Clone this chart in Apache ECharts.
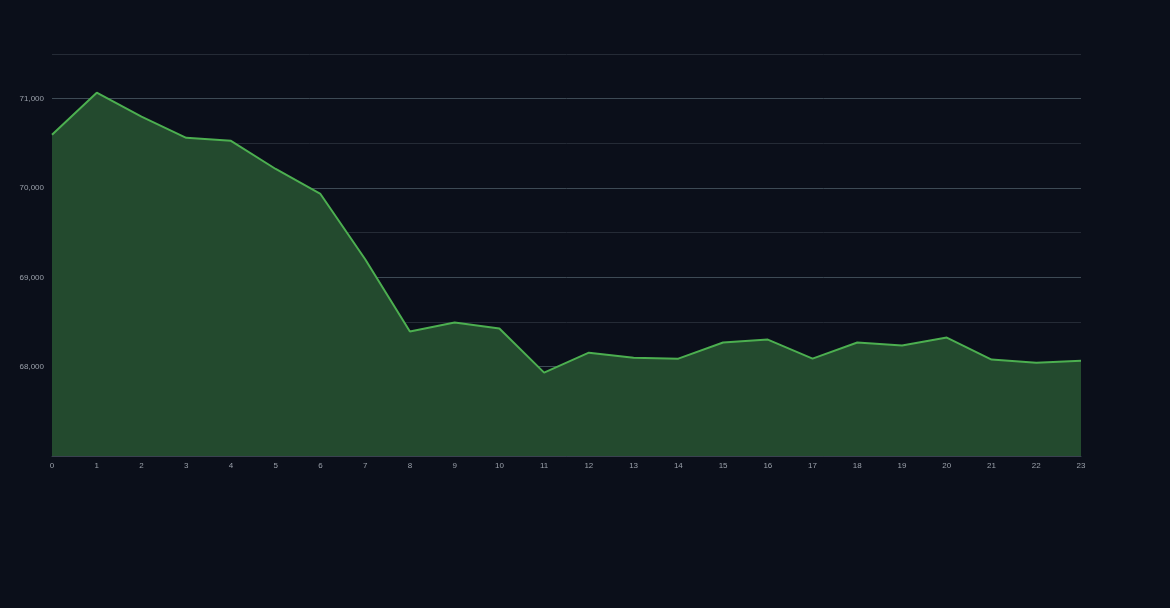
<!DOCTYPE html>
<html><head><meta charset="utf-8">
<script src="https://cdn.jsdelivr.net/npm/echarts@6/dist/echarts.min.js"></script>
<style>html,body{margin:0;padding:0;background:#0b0f1a;}#c{width:1170px;height:608px;}</style>
</head><body><div id="c"></div>
<script>
const categories = ['0','1','2','3','4','5','6','7','8','9','10','11','12','13','14','15','16','17','18','19','20','21','22','23'];
const values = [70596,71067,70798,70562,70528,70213,69933,69202,68393,68494,68427,67933,68157,68101,68090,68270,68303,68090,68270,68236,68326,68079,68045,68067];
const chart = echarts.init(document.getElementById('c'));
chart.setOption({
  backgroundColor:'#0b0f1a',
  animation:false,
  grid:{left:52,right:89,top:54,bottom:152},
  xAxis:{type:'category',data:categories,boundaryGap:false,
    axisLine:{lineStyle:{color:'#3a4150'}},axisTick:{show:false},
    axisLabel:{color:'#9aa0aa',fontSize:8,fontFamily:'Liberation Sans',margin:6}},
  yAxis:{type:'value',min:67000,max:71500,interval:500,
    axisLine:{show:false},axisTick:{show:false},
    axisLabel:{color:'#9aa0aa',fontSize:8,fontFamily:'Liberation Sans',margin:8,
      formatter:v=>(v%1000===0&&v>67000)?v.toLocaleString('en-US'):''},
    splitLine:{lineStyle:{color:['#3e4a55','#252b36'],width:1}}},
  series:[{type:'line',data:values,symbol:'none',
    lineStyle:{color:'#4caf50',width:2},
    areaStyle:{color:'#234a2e',opacity:1}}]
});
</script></body></html>
